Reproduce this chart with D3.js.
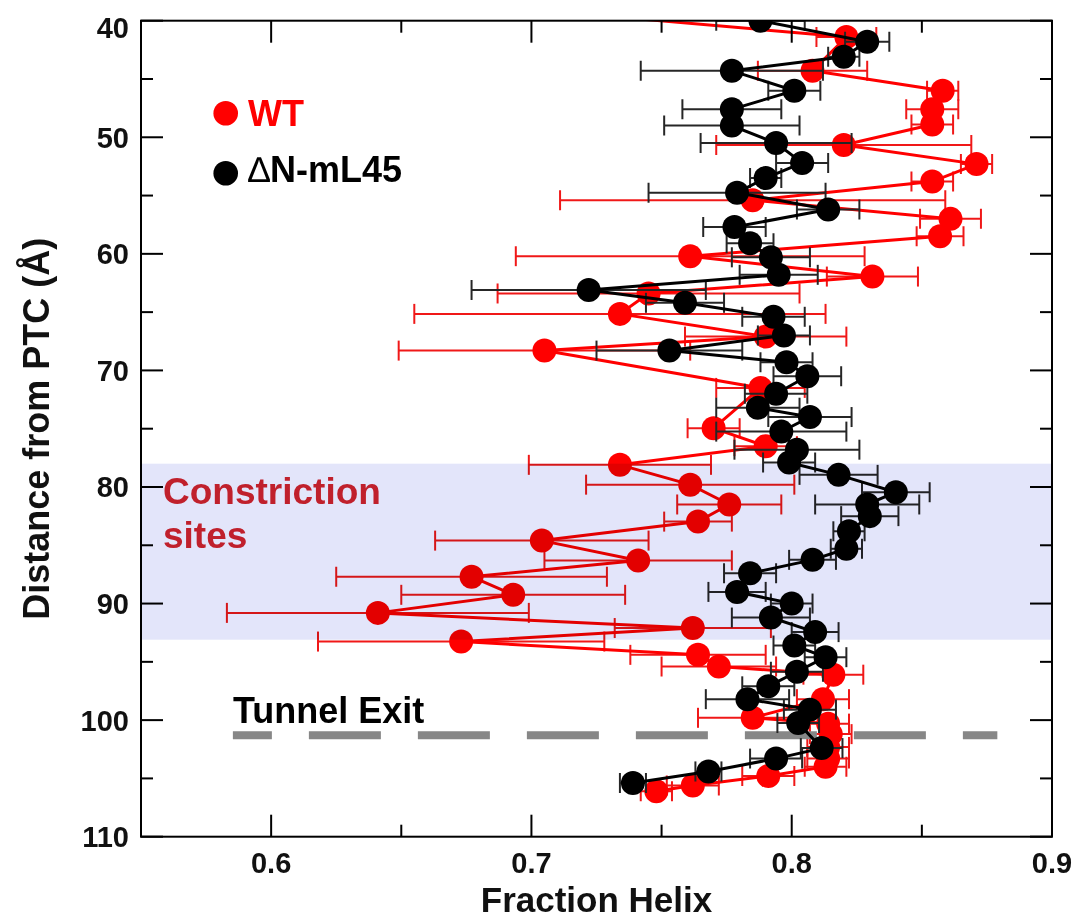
<!DOCTYPE html>
<html><head><meta charset="utf-8">
<script src="https://cdn.jsdelivr.net/npm/d3@7"></script>
<style>
body{margin:0;background:#fff}
text{font-family:"Liberation Sans",Arial,Helvetica,sans-serif;font-weight:bold}
</style>
</head><body>
<svg id="chart" width="1077" height="923"></svg>
<script>
// ---- data ----
const wtDist  = [39.0,41.4,44.3,46.0,47.6,48.9,50.66,52.3,53.8,55.4,57.0,58.5,60.2,61.95,63.4,65.15,67.1,68.3,71.5,74.96,76.5,78.1,79.8,81.5,82.97,84.6,86.3,87.7,89.25,90.8,92.1,93.26,94.4,95.4,96.1,98.2,99.8,100.3,101.2,102.3,103.3,104.0,104.8,105.6,106.1];
const wtHelix = [0.698,0.821,0.808,0.858,0.854,0.854,0.820,0.871,0.854,0.785,0.861,0.857,0.761,0.831,0.745,0.734,0.790,0.705,0.788,0.770,0.790,0.734,0.761,0.776,0.764,0.704,0.741,0.677,0.693,0.641,0.762,0.673,0.764,0.772,0.816,0.812,0.785,0.814,0.815,0.814,0.814,0.813,0.791,0.762,0.748];
const wtErr   = [0.02,0.0115,0.021,0.006,0.010,0.008,0.049,0.006,0.008,0.074,0.0117,0.009,0.067,0.0175,0.058,0.079,0.031,0.056,0.017,0.010,0.012,0.035,0.040,0.020,0.013,0.041,0.036,0.052,0.043,0.058,0.030,0.055,0.026,0.022,0.0115,0.010,0.021,0.008,0.008,0.008,0.008,0.008,0.010,0.010,0.006];

const mutDist  = [40.0,41.8,43.1,44.3,46.0,47.6,49.0,50.5,52.2,53.5,54.75,56.2,57.7,59.1,60.3,61.8,63.1,64.2,65.4,67.0,68.3,69.3,70.5,72.0,73.2,74.0,75.25,76.8,77.9,78.96,80.45,81.5,82.5,83.8,85.3,86.25,87.4,89.0,90.0,91.2,92.45,93.6,94.6,95.85,97.1,98.2,99.1,100.25,102.4,103.3,104.4,105.4];
const mutHelix = [0.788,0.829,0.820,0.777,0.801,0.777,0.777,0.794,0.804,0.790,0.779,0.814,0.778,0.784,0.792,0.795,0.722,0.759,0.793,0.797,0.753,0.798,0.806,0.794,0.787,0.807,0.796,0.802,0.799,0.818,0.840,0.829,0.830,0.822,0.821,0.808,0.784,0.779,0.800,0.792,0.809,0.801,0.813,0.802,0.791,0.783,0.807,0.8025,0.8115,0.794,0.768,0.739];
const mutErr   = [0.017,0.0085,0.006,0.035,0.010,0.019,0.026,0.029,0.010,0.006,0.034,0.012,0.012,0.009,0.015,0.015,0.045,0.015,0.012,0.010,0.028,0.010,0.013,0.012,0.016,0.016,0.025,0.024,0.010,0.015,0.013,0.020,0.011,0.006,0.006,0.009,0.010,0.011,0.008,0.015,0.009,0.008,0.008,0.010,0.010,0.016,0.010,0.008,0.008,0.010,0.005,0.005];

const xTickLabels = [0.6,0.7,0.8,0.9];
const xMinorTicks = [0.55,0.65,0.75,0.85];
const yTickLabels = [40,50,60,70,80,90,100,110];
const yMinorTicks = [45,55,65,75,85,95,105];
const constrictionRange = [78.0,93.1];
const tunnelExit = 101.3;
const tunnelExtent = [0.5853,0.879];
const seriesNames = ["WT","N-mL45"];

// ---- scales ----
const svg = d3.select("#chart");
const L=141, R=1052, T=20.7, B=836.7;
const x = d3.scaleLinear().domain([0.55,0.9]).range([L,R]);
const y = d3.scaleLinear().domain([40,110]).range([T,B]);

svg.append("defs").append("clipPath").attr("id","plotclip")
  .append("rect").attr("x",L).attr("y",T).attr("width",R-L).attr("height",B-T);

const plot = svg.append("g").attr("clip-path","url(#plotclip)");

function drawSeries(dist, helix, err, color, errColor){
  const data = dist.map((d,i)=>({d, v:helix[i], e:err[i]}));
  const g = plot.append("g");
  const eb = g.append("g").attr("stroke",errColor).attr("stroke-width",2).attr("fill","none");
  data.forEach(p=>{
    eb.append("line").attr("x1",x(p.v-p.e)).attr("x2",x(p.v+p.e)).attr("y1",y(p.d)).attr("y2",y(p.d));
    [p.v-p.e,p.v+p.e].forEach(c=>{
      eb.append("line").attr("x1",x(c)).attr("x2",x(c)).attr("y1",y(p.d)-10).attr("y2",y(p.d)+10);
    });
  });
  g.append("path").datum(data)
    .attr("d", d3.line().x(p=>x(p.v)).y(p=>y(p.d)))
    .attr("fill","none").attr("stroke",color).attr("stroke-width",3);
  g.selectAll("circle").data(data).join("circle")
    .attr("cx",p=>x(p.v)).attr("cy",p=>y(p.d)).attr("r",12).attr("fill",color);
}

drawSeries(wtDist, wtHelix, wtErr, "#ff0000", "#f01818");

// tunnel exit dashed line
plot.append("line")
  .attr("x1",x(tunnelExtent[0])).attr("x2",x(tunnelExtent[1]))
  .attr("y1",y(tunnelExit)).attr("y2",y(tunnelExit))
  .attr("stroke","#878787").attr("stroke-width",8)
  .attr("stroke-dasharray","72,37").attr("stroke-dashoffset",33);

drawSeries(mutDist, mutHelix, mutErr, "#000000", "#262626");

// constriction band (multiplied over the data)
svg.append("rect")
  .attr("x",L).attr("width",R-L)
  .attr("y",y(constrictionRange[0])).attr("height",y(constrictionRange[1])-y(constrictionRange[0]))
  .attr("fill","#e3e5fa").style("mix-blend-mode","multiply");

// ---- axes / frame ----
const ax = svg.append("g").attr("stroke","#000").attr("stroke-width",2);
ax.append("rect").attr("x",L).attr("y",T).attr("width",R-L).attr("height",B-T).attr("fill","none");
xTickLabels.forEach(v=>{
  ax.append("line").attr("x1",x(v)).attr("x2",x(v)).attr("y1",B).attr("y2",B-22);
  ax.append("line").attr("x1",x(v)).attr("x2",x(v)).attr("y1",T).attr("y2",T+22);
});
xMinorTicks.forEach(v=>{
  ax.append("line").attr("x1",x(v)).attr("x2",x(v)).attr("y1",B).attr("y2",B-12);
  ax.append("line").attr("x1",x(v)).attr("x2",x(v)).attr("y1",T).attr("y2",T+12);
});
yTickLabels.forEach(v=>{
  ax.append("line").attr("x1",L).attr("x2",L+22).attr("y1",y(v)).attr("y2",y(v));
  ax.append("line").attr("x1",R).attr("x2",R-22).attr("y1",y(v)).attr("y2",y(v));
});
yMinorTicks.forEach(v=>{
  ax.append("line").attr("x1",L).attr("x2",L+12).attr("y1",y(v)).attr("y2",y(v));
  ax.append("line").attr("x1",R).attr("x2",R-12).attr("y1",y(v)).attr("y2",y(v));
});

svg.append("g").selectAll("text").data(xTickLabels).join("text")
  .attr("x",d=>x(d)).attr("y",B+36).attr("text-anchor","middle")
  .attr("font-size",29).attr("fill","#111").text(d=>d3.format(".1f")(d));
svg.append("g").selectAll("text").data(yTickLabels).join("text")
  .attr("x",L-12).attr("y",d=>y(d)+(d===40?7:0)).attr("dy","0.36em").attr("text-anchor","end")
  .attr("font-size",29).attr("fill","#111").text(d=>d);

svg.append("text").attr("x",(L+R)/2).attr("y",912).attr("text-anchor","middle")
  .attr("font-size",35).attr("fill","#111").text("Fraction Helix");
svg.append("text").attr("transform",`translate(49,${(T+B)/2}) rotate(-90)`)
  .attr("text-anchor","middle").attr("font-size",36).attr("fill","#111")
  .text("Distance from PTC (Å)");

// legend
svg.append("circle").attr("cx",225.7).attr("cy",113.3).attr("r",12.3).attr("fill","#ff0000");
svg.append("text").attr("x",248).attr("y",126).attr("font-size",36).attr("fill","#ff0000").text(seriesNames[0]);
svg.append("circle").attr("cx",225.7).attr("cy",173.3).attr("r",12.3).attr("fill","#000");
const lt = svg.append("text").attr("x",248).attr("y",182).attr("font-size",36).attr("fill","#000");
lt.append("tspan").attr("font-weight","normal").text("\u2206");
lt.append("tspan").text(seriesNames[1]);

// annotations
svg.append("text").attr("x",163).attr("y",504).attr("font-size",37).attr("fill","#c0202c").text("Constriction");
svg.append("text").attr("x",163).attr("y",548).attr("font-size",37).attr("fill","#c0202c").text("sites");
svg.append("text").attr("x",233).attr("y",723).attr("font-size",36).attr("fill","#000").text("Tunnel Exit");
</script>
</body></html>
